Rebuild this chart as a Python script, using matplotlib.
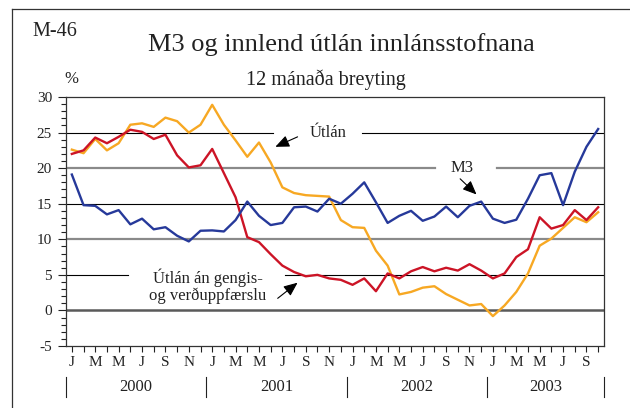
import matplotlib
matplotlib.use("Agg")
import matplotlib.pyplot as plt
from matplotlib.lines import Line2D
from matplotlib.ticker import MultipleLocator

# monthly 12-month change, Jan 2000 - Oct 2003
m3 = [19.1, 14.8, 14.7, 13.5, 14.1, 12.1, 12.9, 11.4, 11.7, 10.5, 9.7, 11.2,
      11.25, 11.1, 12.7, 15.3, 13.3, 12.0, 12.3, 14.5, 14.6, 13.9, 15.7, 15.0,
      16.4, 18.0, 15.2, 12.3, 13.3, 14.0, 12.6, 13.2, 14.6, 13.1, 14.7, 15.3,
      12.9, 12.3, 12.75, 15.7, 19.0, 19.3, 14.8, 19.5, 23.0, 25.5]
utlan_an = [22.0, 22.5, 24.3, 23.5, 24.4, 25.4, 25.1, 24.1, 24.7, 21.8, 20.1, 20.4,
            22.7, 19.3, 15.9, 10.3, 9.6, 7.9, 6.3, 5.4, 4.8, 5.0, 4.5, 4.3,
            3.6, 4.5, 2.7, 5.2, 4.5, 5.5, 6.1, 5.5, 6.0, 5.6, 6.5, 5.6,
            4.5, 5.2, 7.5, 8.6, 13.1, 11.5, 12.0, 14.1, 12.7, 14.5]
utlan = [22.6, 22.1, 24.1, 22.5, 23.5, 26.1, 26.3, 25.8, 27.1, 26.6, 25.0, 26.1,
         28.9, 26.1, 23.9, 21.6, 23.6, 20.8, 17.3, 16.5, 16.2, 16.1, 16.0, 12.7,
         11.7, 11.6, 8.4, 6.3, 2.25, 2.6, 3.2, 3.4, 2.3, 1.5, 0.7, 0.9,
         -0.8, 0.7, 2.6, 5.2, 9.1, 10.1, 11.6, 13.1, 12.4, 13.8]
month_letters = ["J", "F", "M", "A", "M", "J", "J", "Á", "S", "O", "N", "D"]
years = ["2000", "2001", "2002", "2003"]

plt.rcParams["font.family"] = "Liberation Serif"
plt.rcParams["axes.unicode_minus"] = False
txt_col = "#222222"

fig = plt.figure(figsize=(6.3, 4.08), dpi=100)
ax = fig.add_axes([66 / 630, 1 - 346 / 408, 538 / 630, 249 / 408])

x = list(range(len(m3)))

# horizontal grid, some lines broken where labels sit
grid = [
    (25, "black", 0.8, [(0, 0.384), (0.551, 1)]),
    (20, "#8a8a8a", 1.6, [(0, 0.686), (0.801, 1)]),
    (15, "black", 0.8, [(0, 1)]),
    (10, "#8a8a8a", 1.6, [(0, 1)]),
    (5, "black", 0.8, [(0, 0.115), (0.407, 1)]),
    (0, "#5a5a5a", 1.8, [(0, 1)]),
]
for yv, col, lw, segs in grid:
    for a, b in segs:
        ax.axhline(yv, xmin=a, xmax=b, color=col, lw=lw, zorder=1)

ax.plot(x, utlan, color="#f7a823", lw=1.7, zorder=3)
ax.plot(x, utlan_an, color="#cc1426", lw=1.7, zorder=4)
ax.plot(x, m3, color="#26399a", lw=1.7, zorder=5)

ax.set_xlim(-0.5, len(m3) - 0.5)
ax.set_ylim(-5, 30)
ax.yaxis.set_major_locator(MultipleLocator(5))
ax.yaxis.set_minor_locator(MultipleLocator(1))
ax.tick_params(axis="y", which="major", length=6, width=0.8, pad=4,
               labelsize=11, colors=txt_col)
ax.tick_params(axis="y", which="minor", length=3.4, width=0.8, colors=txt_col)

labels = [month_letters[i % 12] if i % 2 == 0 else "" for i in x]
ax.set_xticks(x)
ax.set_xticklabels(labels)
ax.tick_params(axis="x", length=4, width=0.8, pad=3, labelsize=11, colors=txt_col)

for s in ax.spines.values():
    s.set_color("#333333")
    s.set_linewidth(0.9)

# year labels and separators under the month letters
tr = ax.get_xaxis_transform()
edges = [k * 12 - 0.5 for k in range(len(years))] + [len(m3) - 0.5]
for k, yr in enumerate(years):
    ax.text((edges[k] + edges[k + 1]) / 2, -0.165, yr, transform=tr,
            ha="center", va="center", fontsize=12, color=txt_col)
for e in edges:
    ax.add_line(Line2D([e, e], [-0.125, -0.205], transform=tr,
                       color=txt_col, lw=0.8, clip_on=False))

# series labels with arrows
arrow = dict(arrowstyle="-|>,head_length=0.7,head_width=0.3", color="black",
             lw=0.8, mutation_scale=12, shrinkA=0, shrinkB=0)
ax.text(21.9, 25.0, "Útlán", ha="center", va="center", fontsize=12, color=txt_col)
ax.annotate("", xy=(17.4, 23.0), xytext=(19.3, 24.4), arrowprops=arrow, zorder=6)
ax.text(33.4, 20.0, "M3", ha="center", va="center", fontsize=12, color=txt_col)
ax.annotate("", xy=(34.6, 16.3), xytext=(33.2, 18.5), arrowprops=arrow, zorder=6)
ax.text(11.6, 3.4, "Útlán án gengis-\nog verðuppfærslu", ha="center", va="center",
        fontsize=12, color=txt_col, linespacing=1.0)
ax.annotate("", xy=(19.3, 3.9), xytext=(17.6, 1.7), arrowprops=arrow, zorder=6)

# titles
fig.text(341 / 630, 1 - 45 / 408, "M3 og innlend útlán innlánsstofnana",
         ha="center", va="center", fontsize=19, color=txt_col)
fig.text(326 / 630, 1 - 80 / 408, "12 mánaða breyting",
         ha="center", va="center", fontsize=14.5, color=txt_col)
fig.text(32 / 630, 1 - 32 / 408, "M-46", ha="left", va="center",
         fontsize=14.5, color=txt_col)
fig.text(64 / 630, 1 - 79 / 408, "%", ha="left", va="center",
         fontsize=12, color=txt_col)

# partial outer frame (top and left)
fig.add_artist(Line2D([12 / 630, 1], [1 - 8.5 / 408, 1 - 8.5 / 408],
                      transform=fig.transFigure, color="#333333", lw=0.9))
fig.add_artist(Line2D([12 / 630, 12 / 630], [0, 1 - 8.5 / 408],
                      transform=fig.transFigure, color="#333333", lw=0.9))

fig.savefig("out.png", dpi=100)
